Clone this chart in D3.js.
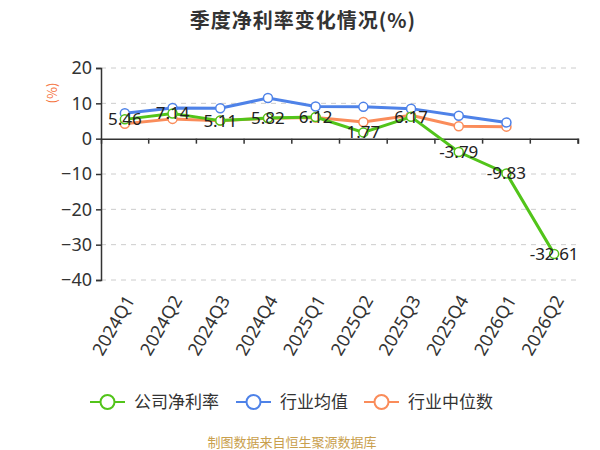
<!DOCTYPE html>
<html><head><meta charset="utf-8">
<script src="https://cdn.jsdelivr.net/npm/d3@7"></script>
<style>body{margin:0;background:#fff;}svg{display:block;font-family:"Noto Sans CJK SC","Noto Sans",sans-serif;}</style>
</head><body>
<svg id="c" width="600" height="450"></svg>
<script>
const categories = ["2024Q1","2024Q2","2024Q3","2024Q4","2025Q1","2025Q2","2025Q3","2025Q4","2026Q1","2026Q2"];
const companyNet = [5.46, 7.14, 5.11, 5.82, 6.12, 1.77, 6.17, -3.79, -9.83, -32.61];
const industryMean = [7.2, 8.7, 8.6, 11.5, 9.1, 9.0, 8.5, 6.5, 4.6, null];
const industryMedian = [4.2, 5.6, 5.1, 5.8, 6.0, 4.7, 6.6, 3.5, 3.4, null];
const yTicks = [20, 10, 0, -10, -20, -30, -40];
const seriesNames = ["公司净利率", "行业均值", "行业中位数"];
const colors = ["#52c41a", "#4e82e8", "#fa8c5a"];

const svg = d3.select("#c");
const x = d3.scaleBand().domain(categories).range([101, 578]);
const y = d3.scaleLinear().domain([-40, 20]).range([280, 68]);

// title
svg.append("text").attr("x", 303).attr("y", 21).attr("dy", "0.35em").attr("text-anchor", "middle")
  .attr("font-size", 20).attr("letter-spacing", 1).attr("font-weight", "bold").attr("fill", "#333").text("季度净利率变化情况(%)");

// unit
svg.append("text").attr("transform", "translate(52,93) rotate(-90)").attr("text-anchor", "middle")
  .attr("dy", "0.35em").attr("font-size", 13).attr("fill", "#f5713a").text("(%)");

// grid
svg.append("g").selectAll("line").data(yTicks.filter(d => d !== 0)).join("line")
  .attr("x1", 101).attr("x2", 578).attr("y1", d => y(d)).attr("y2", d => y(d))
  .attr("stroke", "#ccc").attr("stroke-dasharray", "5,5").attr("stroke-width", 1);

// y axis
const yAxis = svg.append("g").attr("transform", "translate(101,0)")
  .call(d3.axisLeft(y).tickValues(yTicks).tickSize(5).tickPadding(4));
yAxis.select(".domain").attr("stroke", "#333").attr("stroke-width", 1.5);
yAxis.selectAll(".tick line").attr("stroke", "#333").attr("stroke-width", 1.5);
yAxis.selectAll("text").attr("font-size", 18).attr("fill", "#333").attr("font-family", "Noto Sans, sans-serif");

// x axis at zero
const xAxis = svg.append("g").attr("transform", `translate(0,${y(0)})`)
  .call(d3.axisBottom(x).tickSizeOuter(0).tickSize(5).tickFormat(""));
xAxis.select(".domain").attr("stroke", "#333").attr("stroke-width", 1.5);
xAxis.selectAll(".tick").remove();
const bounds = categories.map(c => x(c)).concat([x(categories[categories.length - 1]) + x.bandwidth()]);
xAxis.selectAll("line.bt").data(bounds.slice(1)).join("line").attr("class", "bt")
  .attr("x1", d => d).attr("x2", d => d).attr("y1", 0).attr("y2", 5)
  .attr("stroke", "#333").attr("stroke-width", 1.5);

// x labels
svg.append("g").selectAll("text").data(categories).join("text")
  .attr("transform", d => `translate(${x(d) + x.bandwidth() / 2 + 5},${297}) rotate(-60)`)
  .attr("text-anchor", "end").attr("font-size", 18).attr("fill", "#333")
  .attr("font-family", "Noto Sans, sans-serif").attr("dy", "0.35em").text(d => d);

const cx = d => x(d) + x.bandwidth() / 2;
const allSeries = [companyNet, industryMean, industryMedian];
[2, 1, 0].forEach(i => {
  const data = categories.map((c, j) => ({ c, v: allSeries[i][j] })).filter(d => d.v !== null);
  const line = d3.line().x(d => cx(d.c)).y(d => y(d.v));
  svg.append("path").datum(data).attr("d", line).attr("fill", "none")
    .attr("stroke", colors[i]).attr("stroke-width", 3);
  svg.append("g").selectAll("circle").data(data).join("circle")
    .attr("cx", d => cx(d.c)).attr("cy", d => y(d.v)).attr("r", 4.5)
    .attr("fill", "#fff").attr("stroke", colors[i]).attr("stroke-width", 1.5);
});

// labels for company
svg.append("g").selectAll("text").data(categories.map((c, j) => ({ c, v: companyNet[j] }))).join("text")
  .attr("x", d => cx(d.c)).attr("y", d => y(d.v)).attr("dy", "0.35em")
  .attr("text-anchor", "middle").attr("font-size", 17).attr("fill", "#222")
  .attr("font-family", "Noto Sans, sans-serif").text(d => d.v.toFixed(2));

// legend
const legendX = [90, 236, 364];
seriesNames.forEach((n, i) => {
  const g = svg.append("g").attr("transform", `translate(${legendX[i]},402)`);
  g.append("line").attr("x1", 0).attr("x2", 35).attr("stroke", colors[i]).attr("stroke-width", 2);
  g.append("circle").attr("cx", 17.5).attr("cy", 0).attr("r", 7).attr("fill", "#fff")
    .attr("stroke", colors[i]).attr("stroke-width", 2);
  g.append("text").attr("x", 44).attr("y", 0).attr("dy", "0.35em").attr("font-size", 17)
    .attr("fill", "#333").text(n);
});

// footer
svg.append("text").attr("x", 292).attr("y", 442).attr("dy", "0.35em").attr("text-anchor", "middle")
  .attr("font-size", 13).attr("fill", "#c9a04d").text("制图数据来自恒生聚源数据库");
</script>
</body></html>
